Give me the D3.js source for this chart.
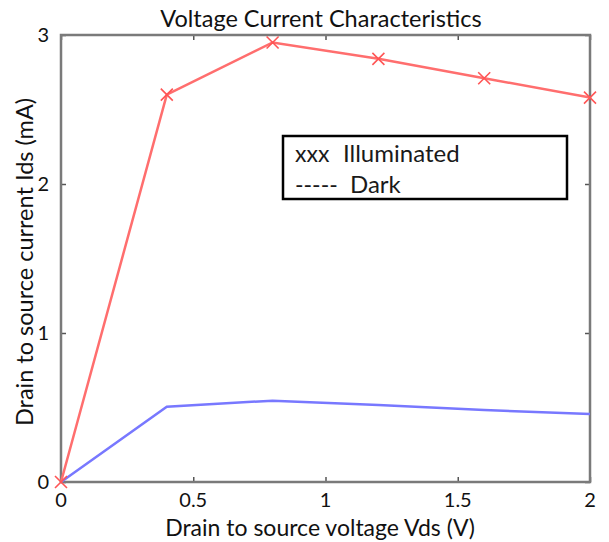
<!DOCTYPE html>
<html><head><meta charset="utf-8">
<script src="https://cdn.jsdelivr.net/npm/d3@7"></script>
<style>body{margin:0;background:#fff}svg{display:block}</style>
</head><body>
<svg id="c" width="609" height="542"></svg>
<script>
const vds = [0, 0.4, 0.8, 1.2, 1.6, 2.0];
const illuminated = [0, 2.60, 2.95, 2.84, 2.71, 2.58];
const dark = [0, 0.505, 0.546, 0.517, 0.483, 0.456];
const xTicks = [0, 0.5, 1, 1.5, 2];
const xTickLabels = ["0", "0.5", "1", "1.5", "2"];
const yTicks = [0, 1, 2, 3];
const yTickLabels = ["0", "1", "2", "3"];
const title = "Voltage Current Characteristics";
const xLabel = "Drain to source voltage Vds (V)";
const yLabel = "Drain to source current Ids (mA)";
const legendSymbols = ["xxx", "-----"];
const legendLabels = ["Illuminated", "Dark"];

const font = "Lato, 'Open Sans', sans-serif";
const svg = d3.select("#c");
const m = {l: 61, r: 590, t: 35, b: 482};
const x = d3.scaleLinear().domain([0, 2]).range([m.l, m.r]);
const y = d3.scaleLinear().domain([0, 3]).range([m.b, m.t]);

const axisColor = "#7a7a7a";
const g = svg.append("g");
const xb = g.append("g").attr("transform", `translate(0,${m.b})`)
  .call(d3.axisBottom(x).tickValues(xTicks).tickSize(-5).tickFormat(""));
const xt = g.append("g").attr("transform", `translate(0,${m.t})`)
  .call(d3.axisTop(x).tickValues(xTicks).tickSize(-5).tickFormat(""));
const yl = g.append("g").attr("transform", `translate(${m.l},0)`)
  .call(d3.axisLeft(y).tickValues(yTicks).tickSize(-5).tickFormat(""));
const yr = g.append("g").attr("transform", `translate(${m.r},0)`)
  .call(d3.axisRight(y).tickValues(yTicks).tickSize(-5).tickFormat(""));
[xb, xt, yl, yr].forEach(a => {
  a.select(".domain").remove();
  a.selectAll(".tick line").attr("stroke", "#555").attr("stroke-width", 1.5);
});
g.append("rect").attr("x", m.l).attr("y", m.t).attr("width", m.r - m.l).attr("height", m.b - m.t)
  .attr("fill", "none").attr("stroke", axisColor).attr("stroke-width", 2.5);

// tick labels
svg.append("g").selectAll("text").data(xTicks).join("text")
  .attr("x", d => x(d)).attr("y", m.b + 25).attr("text-anchor", "middle")
  .attr("font-family", font).attr("font-size", 20).attr("fill", "#111")
  .text((d, i) => xTickLabels[i]);
svg.append("g").selectAll("text").data(yTicks).join("text")
  .attr("x", m.l - 12).attr("y", d => y(d) + 7).attr("text-anchor", "end")
  .attr("font-family", font).attr("font-size", 20).attr("fill", "#111")
  .text((d, i) => yTickLabels[i]);

svg.append("text").attr("x", 321).attr("y", 27).attr("text-anchor", "middle")
  .attr("font-family", font).attr("font-size", 23.5).attr("fill", "#111").text(title);
svg.append("text").attr("x", 320).attr("y", 536).attr("text-anchor", "middle")
  .attr("font-family", font).attr("font-size", 23).attr("fill", "#111").text(xLabel);
svg.append("text").attr("transform", "translate(33,262) rotate(-90)").attr("text-anchor", "middle")
  .attr("font-family", font).attr("font-size", 23.5).attr("fill", "#111").text(yLabel);

const line = d3.line().x((d, i) => x(vds[i])).y(d => y(d));
svg.append("path").datum(dark).attr("d", line).attr("fill", "none")
  .attr("stroke", "#7878ff").attr("stroke-width", 2.5);
svg.append("path").datum(illuminated).attr("d", line).attr("fill", "none")
  .attr("stroke", "#ff6e6e").attr("stroke-width", 2.5);
const s = 6;
svg.append("g").selectAll("path").data(illuminated).join("path")
  .attr("d", (d, i) => {
    const cx = x(vds[i]), cy = y(d);
    return `M${cx - s},${cy - s}L${cx + s},${cy + s}M${cx - s},${cy + s}L${cx + s},${cy - s}`;
  })
  .attr("stroke", "#ff5555").attr("stroke-width", 1.6).attr("fill", "none");

// legend
const lg = svg.append("g");
lg.append("rect").attr("x", 283).attr("y", 136).attr("width", 284).attr("height", 63)
  .attr("fill", "#fff").attr("stroke", "#000").attr("stroke-width", 2.5);
lg.selectAll("text.sym").data(legendSymbols).join("text").attr("class", "sym")
  .attr("x", 295).attr("y", (d, i) => 162 + i * 31)
  .attr("font-family", font).attr("font-size", 23).attr("fill", "#1a1a1a")
  .text(d => d);
lg.selectAll("text.lab").data(legendLabels).join("text").attr("class", "lab")
  .attr("x", (d, i) => i === 0 ? 343 : 350).attr("y", (d, i) => 162 + i * 31)
  .attr("font-family", font).attr("font-size", 24).attr("fill", "#1a1a1a")
  .text(d => d);
</script>
</body></html>
